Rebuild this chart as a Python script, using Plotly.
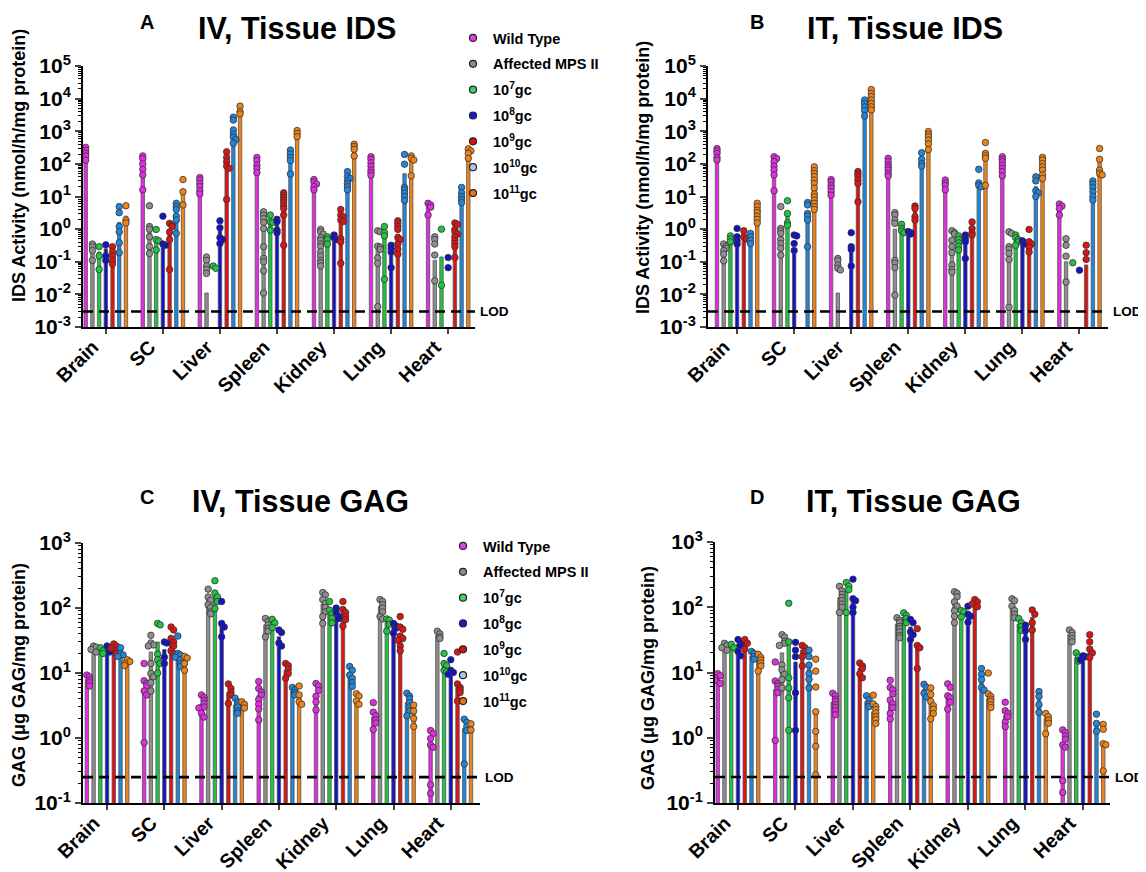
import numpy as np
import plotly.graph_objects as go

W, H = 1146, 872          # target picture size
OFF = 8                   # page body margin of the browser
FW, FH = W - OFF, H - OFF # figure size
FONT = "Liberation Sans, Arial, sans-serif"

TISSUES = ["Brain", "SC", "Liver", "Spleen", "Kidney", "Lung", "Heart"]
GROUPS = ["Wild Type", "Affected MPS II", "10<sup>7</sup>gc", "10<sup>8</sup>gc",
          "10<sup>9</sup>gc", "10<sup>10</sup>gc", "10<sup>11</sup>gc"]
COLORS = ["#E22EE2", "#8E8E8E", "#22C443", "#1212C8", "#DD1414", "#2186DC", "#EE8418"]
LEGEND_COLORS = ["#E040E0", "#8C8C8C", "#40D060", "#1A1AD0", "#E01010", "#A8C8F0", "#EE7010"]

LOD_IDS = 0.003
LOD_GAG = 0.25

# ---------------- Panel A: IV, Tissue IDS ----------------
IV_IDS_BARS = [
    [250, 0.3, 0.2, 0.25, 0.18, 1.6, 2.5],
    [92, 1.2, 0.45, 0.35, 1.0, 2.8, 15],
    [25, 0.011, None, 0.9, 120, 900, 3600],
    [90, 1.0, 1.6, 1.5, 7, 170, 850],
    [26, 0.6, 0.5, 0.55, 1.7, 33, 300],
    [110, 0.3, 0.75, 0.3, 0.7, 50, 130],
    [5, 0.11, 0.14, None, 0.7, 12, 230],
]
IV_IDS_POINTS = [
    [[320, 260, 210, 175, 130], [0.35, 0.29, 0.22, 0.11], [0.29, 0.15, 0.058], [0.33, 0.15, 0.11],
     [0.29, 0.2, 0.15, 0.11, 0.085], [4.9, 3.2, 1.2, 0.83, 0.38, 0.19], [5.2, 1.9, 1.55]],
    [[175, 145, 100, 68, 46, 16], [5.2, 1.2, 1.0, 0.58, 0.29, 0.18], [0.98, 0.48, 0.44, 0.23], [2.5, 0.35, 0.32],
     [1.5, 1.3, 1.2, 0.82, 0.48, 0.058], [6.2, 4.9, 4.0, 2.5, 1.9, 0.74], [33, 14, 5.5]],
    [[38, 32, 25, 20, 15, 12], [0.14, 0.11, 0.074, 0.058, 0.044], [0.074, 0.063], [1.8, 1.1, 0.55, 0.48, 0.36],
     [235, 158, 117, 85, 73, 8.1], [2700, 2200, 1100, 800, 650, 560, 430], [5900, 4000, 3400]],
    [[158, 126, 92, 73, 54], [3.4, 2.7, 2.1, 1.6, 1.05, 0.29, 0.126, 0.1, 0.053, 0.011], [2.7, 1.7, 1.6, 0.93],
     [2.0, 1.7, 0.93, 0.78], [13, 11, 9.3, 7.8, 6.5, 5.2, 4.3, 2.7, 0.32], [265, 200, 158, 126, 49], [1050, 850, 680]],
    [[33, 28, 24, 20, 16], [0.98, 0.83, 0.71, 0.55, 0.46, 0.35, 0.29, 0.2, 0.15, 0.11, 0.093, 0.074],
     [0.58, 0.48, 0.35], [0.66, 0.55, 0.48], [4.0, 2.7, 2.4, 1.9, 1.7, 0.51, 0.41, 0.09],
     [58, 41, 36, 30, 25, 20, 16], [400, 340, 280, 175]],
    [[165, 138, 108, 85, 65, 54, 45], [0.89, 0.83, 0.30, 0.28, 0.24, 0.13, 0.09, 0.0042], [1.2, 0.78, 0.62, 0.029],
     [0.32, 0.26, 0.2, 0.066], [1.8, 1.5, 1.2, 0.98, 0.55, 0.48, 0.35, 0.24, 0.17], [195, 98, 19, 16, 13, 10, 7.6],
     [175, 148, 131, 43]],
    [[6.2, 5.5, 4.7, 2.7], [0.58, 0.48, 0.35, 0.16, 0.026], [1.0, 0.019], [0.135, 0.066],
     [1.55, 1.4, 0.98, 0.83, 0.71, 0.58, 0.46, 0.36, 0.29, 0.135], [19, 13, 10, 8.1, 6.5], [290, 250, 210, 148]],
]

# ---------------- Panel B: IT, Tissue IDS ----------------
IT_IDS_BARS = [
    [230, 0.3, 0.55, 0.55, 0.65, 0.55, 3],
    [110, 1.0, 3, 0.18, None, 3, 30],
    [23, 0.011, None, 0.28, 35, 6000, 10000],
    [90, 1.0, 1.0, 0.8, 3.5, 130, 600],
    [25, 0.45, 0.45, 0.45, 1.0, 30, 180],
    [100, 0.3, 0.45, 0.4, 0.4, 20, 80],
    [4.5, 0.1, None, None, 0.08, 17, 140],
]
IT_IDS_POINTS = [
    [[295, 250, 210, 158, 132], [0.35, 0.30, 0.26, 0.22, 0.17, 0.107], [0.62, 0.5, 0.41], [1.05, 0.58, 0.44, 0.35],
     [0.89, 0.58, 0.5], [0.74, 0.58, 0.46, 0.36], [6.2, 4.9, 3.8, 3.2, 2.5, 2.0, 1.55]],
    [[165, 145, 117, 85, 65, 46, 15], [4.9, 1.05, 0.89, 0.74, 0.48, 0.36, 0.26, 0.16], [7.4, 3.0, 1.55, 1.3],
     [0.66, 0.62, 0.36, 0.22], [], [6.5, 5.5, 3.0, 2.5, 1.9, 0.29],
     [81, 62, 51, 41, 32, 25, 18, 12, 9.8, 7.8, 6.2, 4.9, 4.0]],
    [[33, 28, 22, 18, 14, 11], [0.126, 0.107, 0.079, 0.063, 0.056], [], [0.78, 0.29, 0.24, 0.074],
     [58, 49, 41, 32, 25, 6.9], [9100, 7100, 5600, 4300, 2950], [19000, 14500, 11500, 9100, 7100, 5600, 4500]],
    [[148, 117, 92, 78, 65, 51, 43], [3.2, 2.7, 1.9, 1.5, 0.11, 0.09, 0.066, 0.0095], [1.4, 1.05, 0.89, 0.78],
     [0.85, 0.78, 0.71], [5.1, 4.3, 2.4, 1.9], [220, 138, 102, 85], [980, 810, 680, 540, 410, 275]],
    [[32, 26, 22, 16], [0.89, 0.78, 0.71, 0.46, 0.29, 0.19, 0.079, 0.058, 0.048], [0.62, 0.48, 0.38, 0.30, 0.23],
     [0.66, 0.51, 0.41, 0.126], [1.66, 1.05, 0.78, 0.66], [68, 26, 22, 20], [450, 210, 175, 148, 22]],
    [[165, 138, 117, 92, 73, 58, 43], [0.83, 0.74, 0.29, 0.24, 0.18, 0.118, 0.004], [0.66, 0.55, 0.48, 0.41, 0.32],
     [0.44, 0.38, 0.35], [0.98, 0.41, 0.35, 0.28, 0.20], [40, 30, 15, 13, 10], [158, 132, 102, 81, 65, 46, 36]],
    [[5.9, 5.1, 4.3, 2.7], [0.51, 0.32, 0.148, 0.024], [0.093], [0.055], [0.32, 0.19, 0.118],
     [30, 24, 19, 14, 10, 7.8], [295, 138, 65, 51, 46]],
]

# ---------------- Panel C: IV, Tissue GAG ----------------
IV_GAG_BARS = [
    [8, 24, 22, 24, 24, 20, 15],
    [5.5, 21, 30, 23, 32, 19, 16],
    [3.3, 140, 160, 55, 5, 3.2, 3.3],
    [4.5, 55, 55, 36, 11, 5.3, 4.5],
    [4.5, 115, 80, 80, 85, 9, 4],
    [2.1, 105, 60, 52, 38, 3.5, 2.3],
    [0.8, 38, 13, 11, 6, 1.4, 1.45],
]
IV_GAG_POINTS = [
    [[9.3, 8.7, 7.8, 7.1, 6.3], [26, 25, 23, 21], [24.5, 22, 20], [26, 23, 21], [28, 26, 24, 22, 20],
     [24.5, 20, 19, 18], [16, 15, 14, 13]],
    [[14, 7.6, 6.9, 6.3, 5.3, 4.6, 0.85], [38, 29, 27, 26, 14, 9.8, 8.7, 7.1, 5.3], [58, 55, 19.5, 16, 14, 10],
     [30, 29, 17.5, 14], [51, 46, 34, 30, 26, 22, 20], [37, 20, 19, 17.5, 16, 14, 12.6], [18, 17, 14, 11]],
    [[4.6, 4.2, 3.8, 3.4, 3.0, 2.9, 2.4, 2.1], [195, 148, 132, 112, 102, 87, 81], [263, 170, 148, 126, 98],
     [126, 58, 51, 36], [6.8, 5.8, 5.1, 4.6, 3.4], [4.1, 3.6, 3.3, 3.0, 2.6, 2.4], [3.6, 3.3, 2.9]],
    [[7.4, 5.8, 5.1, 4.6, 3.9, 3.3, 2.8, 1.9], [69, 62, 55, 49, 44, 36], [67, 59, 50], [46, 42, 29, 26],
     [14, 13, 11.5, 9.8, 8.3], [6, 5.5, 5, 4.6], [6.3, 4.6, 3.6, 3.3]],
    [[6.9, 6.3, 5.4, 4.4, 3.6, 2.7], [173, 159, 135, 117, 102, 87, 74, 58], [126, 93, 81, 69, 59], [100, 85, 74, 69],
     [126, 95, 85, 74, 66, 53], [12.6, 11, 9.3, 8.3, 7.1, 6.2], [4.8, 4.4, 3.7, 3.3]],
    [[3.5, 2.5, 2.2, 1.9, 1.7, 1.35], [135, 126, 112, 100, 87, 74, 68], [68, 65, 56, 44], [58, 53, 49, 41],
     [74, 51, 47, 37, 34, 32, 26, 22], [4.9, 4.4, 4.0, 3.5, 3.0, 2.6, 2.2], [3.2, 2.6, 2.0, 1.5]],
    [[1.3, 1.17, 0.98, 0.78, 0.72, 0.19, 0.14], [44, 40, 36, 34], [20, 14, 13, 11, 10.5], [16, 11, 10.2, 9.6],
     [21, 6.8, 6, 5.5, 5, 3.7], [1.95, 1.74, 1.5, 1.3, 0.4], [1.65, 1.33]],
]

# ---------------- Panel D: IT, Tissue GAG ----------------
IT_GAG_BARS = [
    [8.5, 25, 25, 27, 28, 18, 15],
    [5.5, 20, 28, 14.5, 22, 12, 2.5],
    [3.5, 140, 180, 135, 11.5, 3.6, 2.5],
    [4, 55, 70, 50, 26, 5.5, 3.5],
    [4.4, 115, 80, 78, 115, 8, 4],
    [2.2, 100, 55, 45, 70, 3.8, 2],
    [0.7, 38, 17, 17, 25, 1.6, 0.85],
]
IT_GAG_POINTS = [
    [[9.6, 8.9, 8.3, 7.6, 6.8], [28, 26, 24, 22], [27, 24], [32, 29, 26, 21, 18], [32, 28, 23],
     [21, 19.5, 17.5, 16], [19, 17, 15.5, 14, 12.6, 10.5]],
    [[14.5, 7.4, 6.8, 6.2, 5.5, 4.9, 0.91], [38, 35, 30, 28, 26, 13, 11, 9.4, 7.8, 5.8],
     [115, 29.5, 8.3, 5.8, 4.1, 1.3], [29, 22, 17.5, 4.9, 1.3], [26, 24, 21, 17.5, 12.6],
     [22, 17.5, 13, 9.6, 7.9, 5.8], [16, 10.5, 6, 2.5, 1.25, 0.74, 0.27]],
    [[4.8, 4.4, 3.9, 3.6, 3.2, 2.9, 2.6, 2.25], [209, 178, 158, 141, 126, 112, 100, 83], [240, 209, 186, 83],
     [269, 135, 126, 100, 83], [14, 12.6, 11.5, 9.6, 8.3], [4.4, 3.8, 3.3, 3.0],
     [4.5, 3.3, 3.0, 2.7, 2.4, 2.1, 1.9, 1.65]],
    [[7.6, 5.9, 5.4, 4.7, 3.8, 3.3, 2.9, 2.35, 1.95], [69, 63, 58, 51, 47, 42, 37, 34], [82, 75, 67, 58],
     [65, 58, 42, 38, 32], [47, 26, 24, 11.5], [6.6, 5.9, 4.8, 4.2], [5.8, 4.6, 3.6, 3.1, 2.75, 2.35, 1.95]],
    [[6.7, 5.9, 4.4, 4.1, 3.5, 2.75], [173, 163, 145, 121, 104, 88, 73, 58], [89, 85, 71], [104, 78, 73, 59],
     [131, 121, 112, 102], [11.5, 9.4, 7.8, 5.9, 5.4], [9.8, 4.7, 4.3, 3.9, 3.6, 3.2, 2.9]],
    [[3.5, 2.6, 2.35, 2.1, 1.74, 1.48], [135, 126, 104, 89, 78, 69], [67, 58, 51, 44], [53, 44, 32],
     [91, 78, 58, 45], [5.1, 4.3, 3.2, 2.45], [2.35, 2.1, 1.86, 1.66, 1.15]],
    [[1.32, 1.2, 1.07, 0.95, 0.78, 0.72, 0.22, 0.145], [45, 41, 37, 33, 29.5], [20, 17.4, 15], [18, 17.4, 15.5],
     [38, 29.5, 23, 20, 17], [2.3, 1.66, 1.26], [1.6, 1.35, 0.81, 0.78, 0.31]],
]

# ---------------- layout geometry (target-picture pixels) ----------------
def px_x(p):
    return (p - OFF) / FW

def px_y(p):
    return 1 - (p - OFF) / FH

PANELS = [
    dict(bars=IV_IDS_BARS, pts=IV_IDS_POINTS, ax="", xs=(83, 475), ys=(66, 327), xr=(-0.40, 6.47), yr=(-3, 5), lod=LOD_IDS),
    dict(bars=IT_IDS_BARS, pts=IT_IDS_POINTS, ax="2", xs=(708, 1108), ys=(66, 327), xr=(-0.51, 6.5), yr=(-3, 5), lod=LOD_IDS),
    dict(bars=IV_GAG_BARS, pts=IV_GAG_POINTS, ax="3", xs=(83, 480), ys=(543, 803), xr=(-0.42, 6.51), yr=(-1, 3), lod=LOD_GAG),
    dict(bars=IT_GAG_BARS, pts=IT_GAG_POINTS, ax="4", xs=(715, 1110), ys=(542, 803), xr=(-0.40, 6.47), yr=(-1, 3), lod=LOD_GAG),
]

STEP = 0.1175
BAR_W = 0.06
JIT = 0.045

fig = go.Figure()

for p in PANELS:
    xa = "x" + p["ax"]
    ya = "y" + p["ax"]
    for j in range(7):
        xs = [i + (j - 3) * STEP for i in range(7)]
        ys = [p["bars"][i][j] for i in range(7)]
        fig.add_trace(go.Bar(
            x=xs, y=ys, width=BAR_W, xaxis=xa, yaxis=ya,
            marker=dict(color=COLORS[j], line=dict(color="#555555", width=0.8)),
            showlegend=False, hoverinfo="skip"))
    for j in range(7):
        px_, py_ = [], []
        for i in range(7):
            vals = p["pts"][i][j]
            order = sorted(vals, reverse=True)
            placed = []
            for v in order:
                lv = np.log10(v)
                near = sum(1 for q in placed if abs(q - lv) < 0.07)
                off = [0, JIT, -JIT, 0, JIT, -JIT][near % 6]
                placed.append(lv)
                px_.append(i + (j - 3) * STEP + off)
                py_.append(v)
        fig.add_trace(go.Scatter(
            x=px_, y=py_, mode="markers", xaxis=xa, yaxis=ya,
            marker=dict(color=COLORS[j], size=6.5, line=dict(color="#333333", width=0.8)),
            showlegend=False, hoverinfo="skip"))
    fig.add_trace(go.Scatter(
        x=list(p["xr"]), y=[p["lod"], p["lod"]], mode="lines", xaxis=xa, yaxis=ya,
        line=dict(color="black", width=2.6, dash="10px,6px"), showlegend=False, hoverinfo="skip"))

for leg, ax in (("legend", ""), ("legend2", "3")):
    for j in range(7):
        fig.add_trace(go.Scatter(
            x=[None], y=[None], mode="markers", xaxis="x" + ax, yaxis="y" + ax,
            name=GROUPS[j], legend=leg, legendgroup=leg + str(j),
            marker=dict(color=LEGEND_COLORS[j], size=7, line=dict(color="#222222", width=1.2))))

layout = dict(
    width=FW, height=FH, margin=dict(l=0, r=0, t=0, b=0, autoexpand=False),
    paper_bgcolor="white", plot_bgcolor="white",
    font=dict(family=FONT, color="black"),
    barmode="overlay", showlegend=True,
)

annotations = []
for p in PANELS:
    k = p["ax"]
    xd = [px_x(p["xs"][0]), px_x(p["xs"][1])]
    yd = [px_y(p["ys"][1]), px_y(p["ys"][0])]
    lo, hi = p["yr"]
    tv = [10.0 ** e for e in range(lo, hi + 1)]
    tt = ["10<sup>%s</sup>" % (str(e) if e >= 0 else "-" + str(-e)) for e in range(lo, hi + 1)]
    minor = [m * 10.0 ** e for e in range(lo, hi) for m in range(2, 10)]
    layout["xaxis" + k] = dict(
        domain=xd, range=list(p["xr"]), anchor="y" + k, automargin=False,
        tickmode="array", tickvals=list(range(7)), ticktext=TISSUES, tickangle=-45,
        tickfont=dict(size=19.5, family=FONT, weight="bold"),
        showline=True, linecolor="black", linewidth=2, ticks="outside", ticklen=5, tickwidth=2,
        ticklabelstandoff=-6, ticklabelshift=-13,
        showgrid=False, zeroline=False, fixedrange=True)
    layout["yaxis" + k] = dict(
        domain=yd, type="log", range=[lo, hi], anchor="x" + k, automargin=False,
        tickmode="array", tickvals=tv, ticktext=tt,
        tickfont=dict(size=21, family=FONT, weight="bold"),
        showline=True, linecolor="black", linewidth=2, ticks="outside", ticklen=6, tickwidth=2,
        minor=dict(tickmode="array", tickvals=minor, ticks="outside", ticklen=3.5, tickwidth=1.3, tickcolor="black"),
        showgrid=False, zeroline=False, fixedrange=True)
    frac = (np.log10(p["lod"]) - lo) / (hi - lo)
    annotations.append(dict(
        text="<b>LOD</b>", xref="x%s domain" % k if k else "x domain", yref="y%s domain" % k if k else "y domain",
        x=1.0, y=frac, xanchor="left", yanchor="middle", xshift=3, showarrow=False,
        font=dict(size=13.5, family=FONT, color="black")))

TITLES = [
    ("IV, Tissue IDS", 297, 9, "A", 147, 22),
    ("IT, Tissue IDS", 905, 9, "B", 757, 22),
    ("IV, Tissue GAG", 300, 482, "C", 147, 497),
    ("IT, Tissue GAG", 913, 482, "D", 757, 497),
]
for t, cx, ty, letter, lx, ly in TITLES:
    annotations.append(dict(text="<b>%s</b>" % t, xref="paper", yref="paper", x=px_x(cx), y=px_y(ty),
                            xanchor="center", yanchor="top", showarrow=False,
                            font=dict(size=30.5, family=FONT, color="black")))
    annotations.append(dict(text="<b>%s</b>" % letter, xref="paper", yref="paper", x=px_x(lx), y=px_y(ly),
                            xanchor="center", yanchor="middle", showarrow=False,
                            font=dict(size=20, family=FONT, color="black")))

YTITLES = [
    ("IDS Activity (nmol/h/mg protein)", 19, 166),
    ("IDS Activity (nmol/h/mg protein)", 643, 178),
    ("GAG (μg GAG/mg protein)", 19, 675),
    ("GAG (μg GAG/mg protein)", 648, 678),
]
for t, x, y in YTITLES:
    annotations.append(dict(text="<b>%s</b>" % t, xref="paper", yref="paper", x=px_x(x), y=px_y(y),
                            xanchor="center", yanchor="middle", textangle=-90, showarrow=False,
                            font=dict(size=18, family=FONT, color="black")))

layout["annotations"] = annotations
layout["legend"] = dict(x=px_x(453), y=px_y(22), xanchor="left", yanchor="top",
                        font=dict(size=14.5, family=FONT, weight="bold"), tracegroupgap=4,
                        bgcolor="rgba(0,0,0,0)", itemclick=False)
layout["legend2"] = dict(x=px_x(443), y=px_y(530), xanchor="left", yanchor="top",
                         font=dict(size=14.5, family=FONT, weight="bold"), tracegroupgap=4,
                         bgcolor="rgba(0,0,0,0)", itemclick=False)

fig.update_layout(**layout)
fig.write_html("out.html")
